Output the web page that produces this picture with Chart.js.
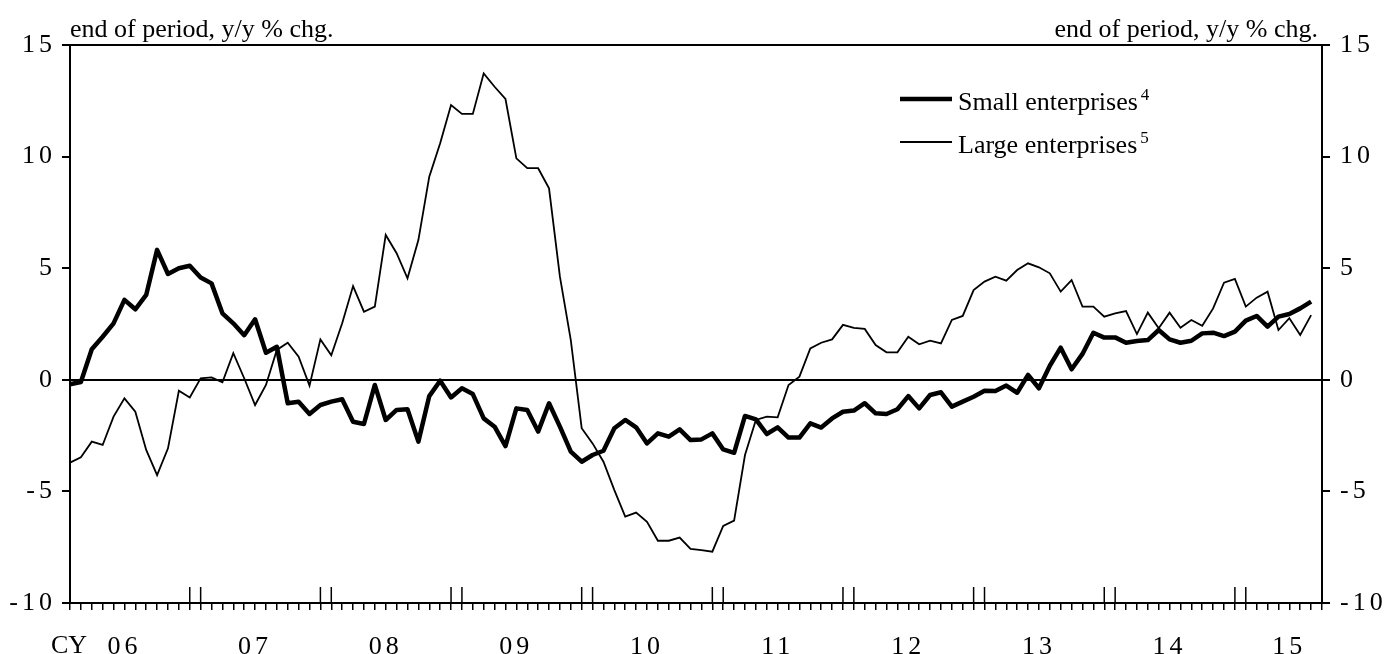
<!DOCTYPE html>
<html>
<head>
<meta charset="utf-8">
<script src="https://cdn.jsdelivr.net/npm/chart.js@4/dist/chart.umd.min.js"></script>
<style>
  html, body { margin: 0; padding: 0; background: #fff; }
</style>
</head>
<body>
<canvas id="chart" width="1385" height="654"></canvas>
<script>
// monthly categories, Jan 2006 .. Aug 2015
const months = [];
for (let y = 2006; y <= 2015; y++) {
  for (let m = 1; m <= 12; m++) {
    if (y === 2015 && m > 8) break;
    months.push(y + '-' + String(m).padStart(2, '0'));
  }
}

// year labels and the month each one sits under
const yearTickMonths = ['2006-06', '2007-06', '2008-06', '2009-06', '2010-06',
                        '2011-06', '2012-06', '2013-06', '2014-06', '2015-05'];
const yearTickLabels = ['06', '07', '08', '09', '10', '11', '12', '13', '14', '15'];

const yTicks = [-10, -5, 0, 5, 10, 15];

// y/y % change, end of period
const small = [
  -0.2, -0.1, 1.37, 1.93, 2.53, 3.58, 3.16, 3.8, 5.82, 4.74,
  5.0, 5.11, 4.58, 4.32, 2.98, 2.53, 2.0, 2.71, 1.21, 1.48,
  -1.05, -0.98, -1.53, -1.13, -0.98, -0.87, -1.88, -1.98, -0.23, -1.8,
  -1.35, -1.32, -2.77, -0.73, -0.04, -0.79, -0.38, -0.64, -1.73, -2.1,
  -2.97, -1.28, -1.35, -2.32, -1.05, -2.1, -3.22, -3.67, -3.37, -3.18,
  -2.17, -1.8, -2.13, -2.85, -2.4, -2.55, -2.22, -2.7, -2.67, -2.4,
  -3.12, -3.27, -1.62, -1.77, -2.43, -2.13, -2.59, -2.59, -1.95, -2.14,
  -1.73, -1.43, -1.38, -1.05, -1.5, -1.53, -1.32, -0.73, -1.28, -0.68,
  -0.56, -1.2, -0.98, -0.76, -0.49, -0.5, -0.26, -0.58, 0.22, -0.38,
  0.63, 1.44, 0.47, 1.16, 2.11, 1.89, 1.9, 1.66, 1.74, 1.78,
  2.23, 1.81, 1.66, 1.75, 2.08, 2.11, 1.96, 2.16, 2.65, 2.86,
  2.38, 2.83, 2.95, 3.2, 3.5
];

const large = [
  -3.71, -3.47, -2.77, -2.92, -1.65, -0.83, -1.43, -3.14, -4.27, -3.07,
  -0.49, -0.79, 0.07, 0.11, -0.11, 1.19, 0.07, -1.13, -0.23, 1.34,
  1.66, 1.04, -0.26, 1.81, 1.1, 2.53, 4.2, 3.05, 3.28, 6.49,
  5.67, 4.55, 6.26, 9.1, 10.6, 12.31, 11.91, 11.91, 13.73, 13.13,
  12.58, 9.92, 9.48, 9.48, 8.58, 4.62, 1.78, -2.17, -2.85, -3.67,
  -4.94, -6.13, -5.95, -6.36, -7.21, -7.21, -7.07, -7.58, -7.63, -7.7,
  -6.55, -6.31, -3.37, -1.8, -1.65, -1.68, -0.23, 0.14, 1.41, 1.66,
  1.81, 2.46, 2.33, 2.28, 1.56, 1.23, 1.23, 1.93, 1.59, 1.75,
  1.63, 2.68, 2.86, 4.02, 4.4, 4.62, 4.44, 4.92, 5.22, 5.04,
  4.77, 3.95, 4.47, 3.28, 3.28, 2.83, 2.98, 3.08, 2.05, 3.01,
  2.31, 3.01, 2.33, 2.68, 2.42, 3.2, 4.35, 4.52, 3.28, 3.68,
  3.95, 2.23, 2.76, 2.01, 2.9
];

const unitText = 'end of period, y/y % chg.';
const FONT = "'Liberation Serif', 'Times New Roman', serif";

Chart.defaults.font.family = FONT;
Chart.defaults.font.size = 26;
Chart.defaults.color = '#000';

// frame extras: year-boundary ticks, unit captions, "CY", legend with footnote marks
const frame = {
  id: 'frame',
  beforeDraw(chart) {
    chart.ctx.letterSpacing = '4px'; // wide digit spacing on the axis numbers
  },
  afterDraw(chart) {
    const { ctx, chartArea: a, scales: { x } } = chart;
    ctx.save();
    ctx.letterSpacing = '0px';
    ctx.strokeStyle = '#000';
    ctx.fillStyle = '#000';
    ctx.lineWidth = 1.5;
    months.forEach((m, i) => {
      const mm = m.slice(5);
      if (i === 0 || (mm !== '12' && mm !== '01')) return;
      const px = x.getPixelForValue(i);
      ctx.beginPath();
      ctx.moveTo(px, a.bottom);
      ctx.lineTo(px, a.bottom - 16);
      ctx.stroke();
    });

    ctx.font = '26px ' + FONT;
    ctx.textBaseline = 'alphabetic';
    ctx.textAlign = 'left';
    ctx.fillText(unitText, a.left, a.top - 8);
    ctx.textAlign = 'right';
    ctx.fillText(unitText, a.right - 4, a.top - 8);
    ctx.textAlign = 'center';
    ctx.fillText('CY', a.left - 1, 653);

    chart.data.datasets.forEach((ds, k) => {
      const y = a.top + 54 + k * 43;
      ctx.lineWidth = ds.borderWidth;
      ctx.beginPath();
      ctx.moveTo(a.right - 422, y);
      ctx.lineTo(a.right - 370, y);
      ctx.stroke();
      ctx.font = '26px ' + FONT;
      ctx.textAlign = 'left';
      ctx.fillText(ds.label, a.right - 364, y + 11);
      const w = ctx.measureText(ds.label).width;
      ctx.font = '17px ' + FONT;
      ctx.fillText(ds.note, a.right - 364 + w + 3, y + 1);
    });
    ctx.restore();
  }
};

const yAxis = (position, width, padding) => ({
  position: position,
  min: -10,
  max: 15,
  afterBuildTicks(s) { s.ticks = yTicks.map(v => ({ value: v })); },
  afterFit(s) { s.width = width; },
  ticks: { padding: padding },
  border: { display: true, color: '#000', width: 2 },
  grid: {
    drawOnChartArea: position === 'left',
    color: c => (c.tick && (c.tick.value === 0 || c.tick.value === 15)) ? '#000' : 'rgba(0,0,0,0)',
    tickColor: '#000',
    lineWidth: 2,
    tickLength: 8
  }
});

new Chart(document.getElementById('chart'), {
  type: 'line',
  data: {
    labels: months,
    datasets: [
      { label: 'Small enterprises', note: '4', data: small, borderColor: '#000',
        borderWidth: 4.5, borderJoinStyle: 'round', pointRadius: 0, tension: 0 },
      { label: 'Large enterprises', note: '5', data: large, borderColor: '#000',
        borderWidth: 1.8, pointRadius: 0, tension: 0 }
    ]
  },
  options: {
    responsive: false,
    animation: false,
    devicePixelRatio: 1,
    layout: { padding: { top: 45, left: 0, right: 0, bottom: 0 } },
    plugins: { legend: { display: false }, tooltip: { enabled: false } },
    scales: {
      x: {
        type: 'category',
        offset: false,
        afterFit(s) { s.height = 51; },
        border: { display: true, color: '#000', width: 2 },
        grid: { drawOnChartArea: false, color: '#000', lineWidth: 1.5, tickLength: 7 },
        ticks: {
          autoSkip: false,
          maxRotation: 0,
          padding: 22,
          callback(v, i) {
            const k = yearTickMonths.indexOf(months[i]);
            return k < 0 ? '' : yearTickLabels[k];
          }
        }
      },
      y: yAxis('left', 70, 6),
      y2: yAxis('right', 63, 10)
    }
  },
  plugins: [frame]
});
</script>
</body>
</html>
